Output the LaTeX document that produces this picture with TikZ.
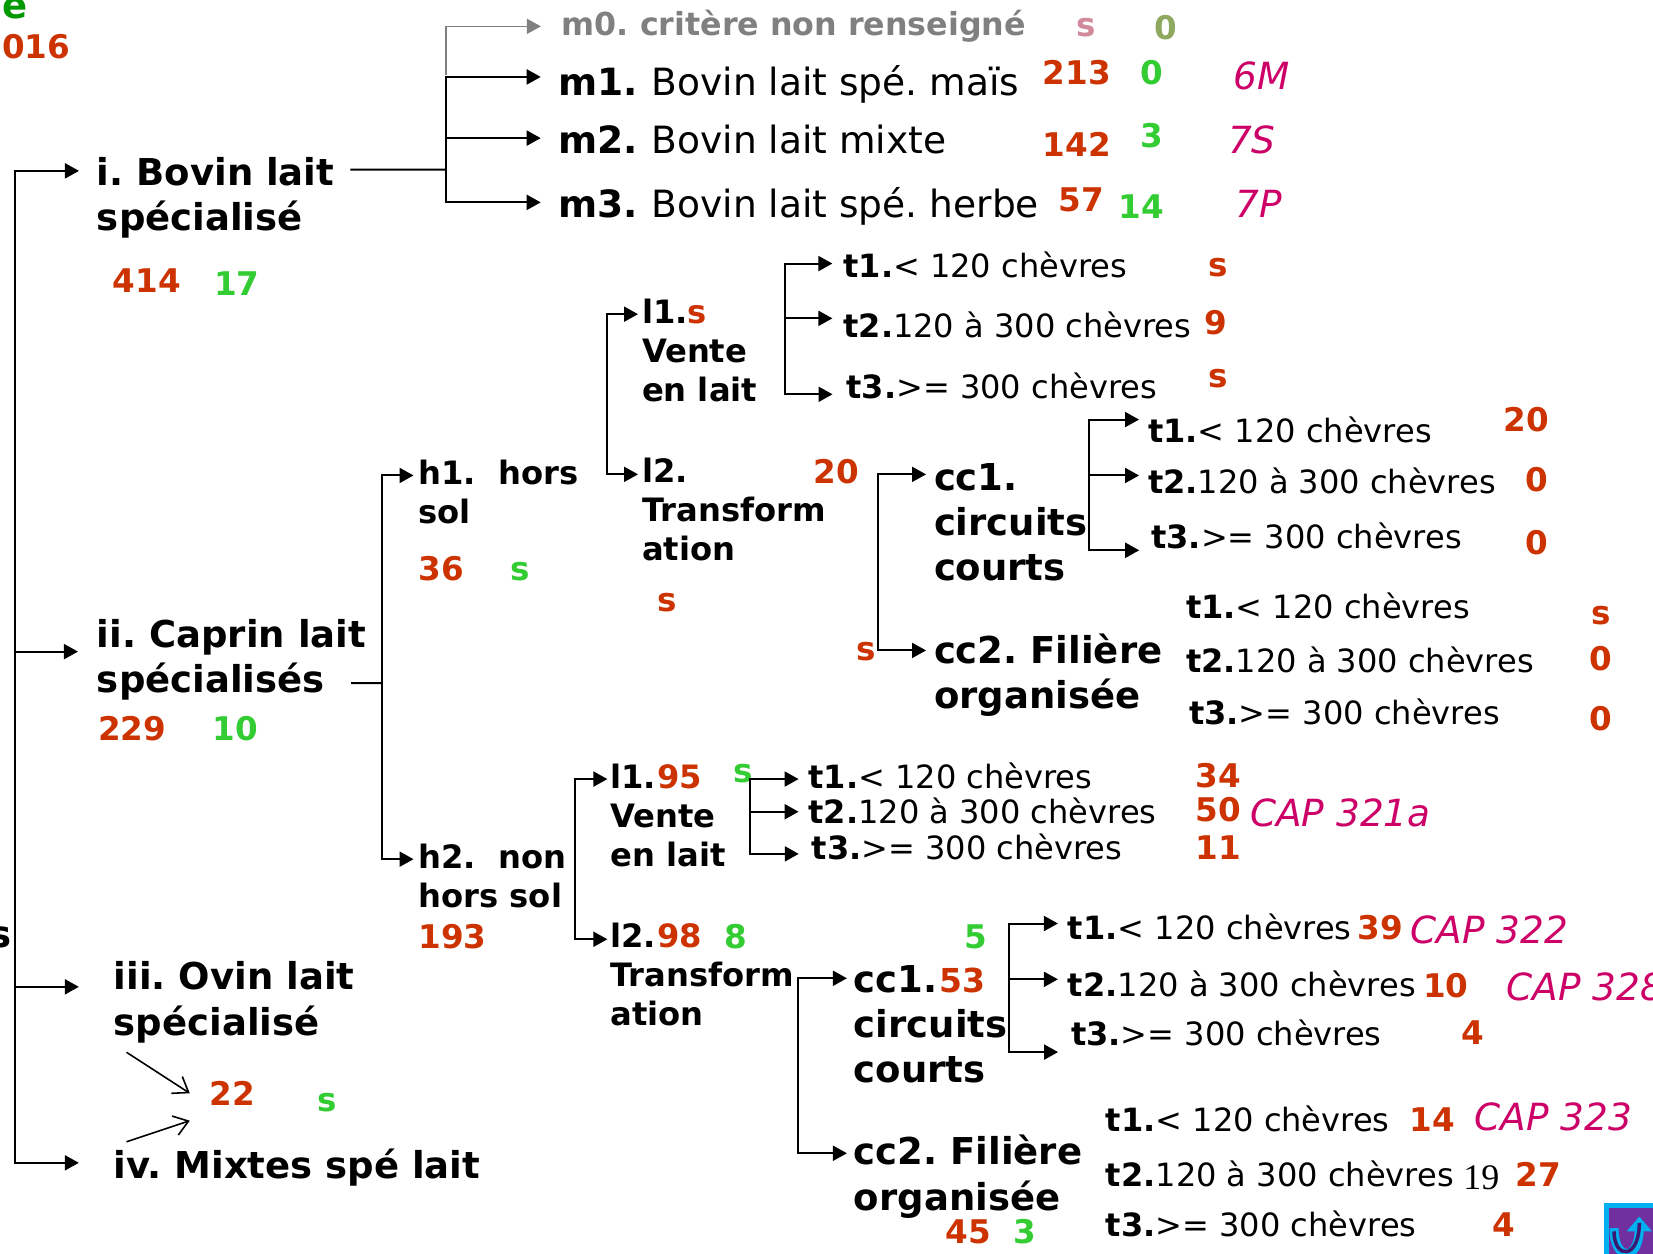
\documentclass[tikz,border=0pt]{standalone}
\usepackage{fontspec}
\setmainfont{DejaVu Sans}
\newfontfamily\serifnum{Liberation Serif}
\usepackage{xcolor}
\usetikzlibrary{arrows.meta}
\frenchspacing
\definecolor{redn}{HTML}{CC3300}
\definecolor{grnn}{HTML}{33CC33}
\definecolor{capn}{HTML}{CC0066}
\definecolor{gren}{HTML}{009900}
\definecolor{pinkn}{HTML}{D08A9A}
\definecolor{olivn}{HTML}{8FA860}
\definecolor{greyn}{HTML}{808080}
\definecolor{iconblue}{HTML}{00B0F0}
\definecolor{iconviolet}{HTML}{7030A0}
\definecolor{icondark}{HTML}{3A1A70}

\begin{document}
\begin{tikzpicture}[
        x=1.0542pt, y=-1.0542pt,
        every node/.style={anchor=base west, inner sep=0pt, outer sep=0pt, align=left},
        big/.style={font=\fontsize{37}{45.3}\selectfont\bfseries},
        mid/.style={font=\fontsize{32.2}{39}\selectfont\bfseries},
        mline/.style={font=\fontsize{37.55}{45}\selectfont},
        tline/.style={font=\fontsize{32.05}{39}\selectfont},
        num/.style={font=\fontsize{32.6}{39}\selectfont\bfseries, text=redn},
        grn/.style={font=\fontsize{32.6}{39}\selectfont\bfseries, text=grnn},
        capt/.style={font=\fontsize{37.4}{45}\selectfont\itshape, text=capn},
        >={Triangle[length=14pt,width=15pt]},
        arr/.style={->, line width=2pt, shorten >=#1},
        arr/.default=10pt,
        bar/.style={line width=2pt},
        thinarr/.style={-{Straight Barb[length=14pt,width=20pt]}, line width=1.6pt}
    ]
    \useasboundingbox (0,0) rectangle (1568,1189);

    \node[big, text=gren] (ecut) at (2,18) {e};
    \node[num] (ycut) at (2,55.5) {016};
    \node[big] (scut) at (-10,899) {s};

    \node[big] (i) at (92,219) {i. Bovin lait\\spécialisé};
    \node[big] (ii) at (92,657) {ii. Caprin lait\\spécialisés};
    \node[big] (iii) at (108,982) {iii. Ovin lait\\spécialisé};
    \node[big] (iv) at (108,1118) {iv. Mixtes spé lait};
    \node[num] (ni) at (107,277) {414};
    \node[grn] (gi) at (203,280) {17};
    \node[num] (nii) at (93,702) {229};
    \node[grn] (gii) at (202,702) {10};
    \node[num] (niii) at (199,1049) {22};
    \node[grn] (giii) at (301,1054) {s};

    \node[mid, font=\fontsize{31.7}{39}\selectfont\bfseries, text=greyn] (m0) at (533,34) {m0. critère non renseigné};
    \node[mline] (m1) at (530,91) {\textbf{m1.}\kern1.5pt\ Bovin lait spé. maïs};
    \node[mline] (m2) at (530,146) {\textbf{m2.}\kern1.5pt\ Bovin lait mixte};
    \node[mline] (m3) at (530,206) {\textbf{m3.}\kern1.5pt\ Bovin lait spé. herbe};
    \node[num, text=pinkn] (nm0) at (1021,35) {s};
    \node[grn, text=olivn] (gm0) at (1095,37) {0};
    \node[num] (nm1) at (989,80) {213};
    \node[grn] (gm1) at (1082,80) {0};
    \node[capt] (cm1) at (1170,85) {6M};
    \node[num] (nm2) at (989,148) {142};
    \node[grn] (gm2) at (1082,140) {3};
    \node[capt] (cm2) at (1165,146) {7S};
    \node[num] (nm3) at (1004,201) {57};
    \node[grn] (gm3) at (1061,207) {14};
    \node[capt] (cm3) at (1172,206) {7P};

    \node[mid] (h1) at (397,497) {h1.\ \ hors\\sol};
    \node[num] (nh1) at (397,551) {36};
    \node[grn] (gh1) at (484,551) {s};
    \node[mid] (h2) at (397,861) {h2.\ \ non\\hors sol};
    \node[num] (nh2) at (397,900) {193};

    \node[mid] (la1) at (609,381) {l1.\textcolor{redn}{s}\\Vente\\en lait};
    \node[mid] (la2) at (609,532) {l2.\\Transform\\ation};
    \node[num] (nla2) at (772,459) {20};
    \node[num] (sla2) at (624,580) {s};

    \node[tline] (ta1) at (800,263) {\textbf{t1.}< 120 chèvres};
    \node[tline] (ta2) at (800,320) {\textbf{t2.}120 à 300 chèvres};
    \node[tline] (ta3) at (803,378) {\textbf{t3.}>= 300 chèvres};
    \node[num] (nta1) at (1146,262) {s};
    \node[num] (nta2) at (1143,317) {9};
    \node[num] (nta3) at (1146,368) {s};

    \node[big] (cca1) at (886,551) {cc1.\\circuits\\courts};
    \node[big] (cca2) at (886,672) {cc2. Filière\\organisée};
    \node[num] (ncca2) at (812,627) {s};

    \node[tline] (tb1) at (1089,420) {\textbf{t1.}< 120 chèvres};
    \node[tline] (tb2) at (1089,468) {\textbf{t2.}120 à 300 chèvres};
    \node[tline] (tb3) at (1092,520) {\textbf{t3.}>= 300 chèvres};
    \node[num] (ntb1) at (1426,409) {20};
    \node[num] (ntb2) at (1447,466) {0};
    \node[num] (ntb3) at (1447,526) {0};

    \node[tline] (tc1) at (1125,587) {\textbf{t1.}< 120 chèvres};
    \node[tline] (tc2) at (1125,638) {\textbf{t2.}120 à 300 chèvres};
    \node[tline] (tc3) at (1128,687) {\textbf{t3.}>= 300 chèvres};
    \node[num] (ntc1) at (1510,592) {s};
    \node[num] (ntc2) at (1508,636) {0};
    \node[num] (ntc3) at (1508,693) {0};

    \node[mid] (lb1) at (579,822) {l1.\kern1.5pt\textcolor{redn}{95}\\Vente\\en lait};
    \node[grn] (glb1) at (696,742) {s};
    \node[mid] (lb2) at (579,973) {l2.\kern1.5pt\textcolor{redn}{98}\\Transform\\ation};
    \node[grn] (glb2) at (687,900) {8};
    \node[grn] (glb3) at (915,900) {5};

    \node[tline] (td1) at (767,748) {\textbf{t1.}< 120 chèvres};
    \node[tline] (td2) at (767,781) {\textbf{t2.}120 à 300 chèvres};
    \node[tline] (td3) at (770,815) {\textbf{t3.}>= 300 chèvres};
    \node[num] (ntd1) at (1134,747) {34};
    \node[num] (ntd2) at (1134,779) {50};
    \node[num] (ntd3) at (1134,815) {11};
    \node[capt] (ctd2) at (1186,784) {CAP 321a};

    \node[big] (ccb1) at (810,1027) {cc1.\kern1.5pt\textcolor{redn}{\fontsize{33}{39}\selectfont 53}\\circuits\\courts};
    \node[big] (ccb2) at (810,1148) {cc2. Filière\\organisée};
    \node[num] (nccb2) at (897,1180) {45};
    \node[grn] (gccb2) at (961,1180) {3};

    \node[tline] (te1) at (1013,891) {\textbf{t1.}< 120 chèvres};
    \node[tline] (te2) at (1013,945) {\textbf{t2.}120 à 300 chèvres};
    \node[tline] (te3) at (1016,992) {\textbf{t3.}>= 300 chèvres};
    \node[num] (nte1) at (1288,891) {39};
    \node[num] (nte2) at (1350,946) {10};
    \node[num] (nte3) at (1386,991) {4};
    \node[capt] (cte1) at (1338,895) {CAP 322};
    \node[capt] (cte2) at (1429,949) {CAP 328};

    \node[tline] (tf1) at (1049,1073) {\textbf{t1.}< 120 chèvres};
    \node[tline] (tf2) at (1049,1125) {\textbf{t2.}120 à 300 chèvres};
    \node[tline] (tf3) at (1049,1173) {\textbf{t3.}>= 300 chèvres};
    \node[num] (ntf1) at (1337,1073) {14};
    \node[tline, font=\fontsize{36}{39}\selectfont\serifnum] (stf2) at (1388,1128) {19};
    \node[num] (ntf2) at (1438,1125) {27};
    \node[num] (ntf3) at (1416,1173) {4};
    \node[capt] (ctf1) at (1399,1072) {CAP 323};

    \coordinate (trunk) at (14,618);
    \coordinate (forkm) at (423,161);
    \coordinate (forkm0) at (423,71);
    \coordinate (forkh) at (362,648);
    \coordinate (forkla) at (576,374);
    \coordinate (forkta) at (745,302);
    \coordinate (forkcca) at (833,530);
    \coordinate (forktb) at (1033,451);
    \coordinate (forklb) at (545,815);
    \coordinate (forktd) at (711,770);
    \coordinate (forkccb) at (757,1000);
    \coordinate (forkte) at (957,929);

    \draw[arr=18pt] (trunk) |- ([yshift=60pt]i.base west);
    \draw[arr=19pt] (trunk) |- ([yshift=41pt]ii.base west);
    \draw[arr=35pt] (trunk) |- ([yshift=48.4pt]iii.base west);
    \draw[arr=35pt] (trunk) |- ([yshift=15.8pt]iv.base west);

    \draw[bar] ([xshift=16pt,yshift=61.2pt]i.base east) -- (forkm);
    \draw[arr=18pt] (forkm) |- ([yshift=19pt]m1.base west);
    \draw[arr=18pt] (forkm) |- ([yshift=15.8pt]m2.base west);
    \draw[arr=18pt] (forkm) |- ([yshift=14.8pt]m3.base west);
    \draw[arr=21pt, greyn, line width=1.5pt] (forkm0) |- ([yshift=9.5pt]m0.base west);

    \draw[bar] ([xshift=-15pt,yshift=9.5pt]ii.base east) -- (forkh);
    \draw[arr=5pt] (forkh) |- ([yshift=48.5pt]h1.base west);
    \draw[arr=5pt] (forkh) |- ([yshift=48.5pt]h2.base west);

    \draw[arr=4pt] (forkla) |- ([yshift=87.5pt]la1.base west);
    \draw[arr=4pt] (forkla) |- ([yshift=86.5pt]la2.base west);
    \draw[arr=11pt] (forkta) |- ([yshift=13.7pt]ta1.base west);
    \draw[arr=11pt] (forkta) |- ([yshift=19pt]ta2.base west);
    \draw[arr=14pt] (forkta) |- ([yshift=4.2pt]ta3.base west);

    \draw[arr=8pt] (forkcca) |- ([yshift=106.5pt]cca1.base west);
    \draw[arr=8pt] (forkcca) |- ([yshift=58pt]cca2.base west);
    \draw[arr=9pt] (forktb) |- ([yshift=23.2pt]tb1.base west);
    \draw[arr=9pt] (forktb) |- ([yshift=17.9pt]tb2.base west);
    \draw[arr=12pt] (forktb) |- ([yshift=-2.1pt]tb3.base west);

    \draw[arr=3pt] (forklb) |- ([yshift=87.5pt]lb1.base west);
    \draw[arr=3pt] (forklb) |- ([yshift=86.5pt]lb2.base west);
    \draw[arr=10pt] (forktd) |- ([yshift=9.5pt]td1.base west);
    \draw[arr=10pt] (forktd) |- ([yshift=11.6pt]td2.base west);
    \draw[arr=13pt] (forktd) |- ([yshift=5.3pt]td3.base west);

    \draw[arr=7pt] (forkccb) |- ([yshift=104.4pt]ccb1.base west);
    \draw[arr=7pt] (forkccb) |- ([yshift=57pt]ccb2.base west);
    \draw[arr=10pt] (forkte) |- ([yshift=15.8pt]te1.base west);
    \draw[arr=10pt] (forkte) |- ([yshift=16.9pt]te2.base west);
    \draw[arr=13pt] (forkte) |- ([yshift=-6.3pt]te3.base west);

    \draw[thinarr] ([xshift=12.6pt,yshift=-17pt]iii.base west) -- ([xshift=-20pt,yshift=12.6pt]niii.base west);
    \draw[thinarr] ([xshift=12.6pt,yshift=36.8pt]iv.base west) -- ([xshift=-20pt,yshift=-14.8pt]niii.base west);

    % icon in the corner
    \fill[iconblue] (1521.5,1141) rectangle (1570,1191);
    \fill[iconviolet] (1526,1145.5) rectangle (1570,1191);
    \draw[iconblue, line width=9pt] (1531,1165) .. controls (1531,1197) and (1555,1197) .. (1555,1165);
    \fill[iconblue] (1555,1154) -- (1567,1168) -- (1543,1168) -- cycle;
    \draw[icondark, line width=3.5pt] (1531,1168) .. controls (1531,1195) and (1555,1195) .. (1555,1160);
\end{tikzpicture}
\end{document}
